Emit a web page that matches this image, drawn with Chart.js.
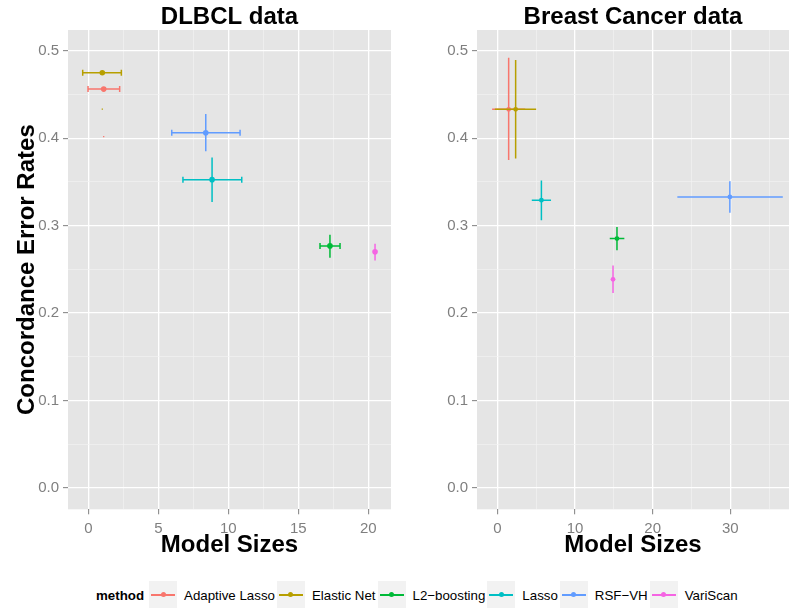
<!DOCTYPE html>
<html>
<head>
<meta charset="utf-8">
<script src="https://cdn.jsdelivr.net/npm/chart.js@4.4.0/dist/chart.umd.min.js"></script>
<style>
  body { margin: 0; background: #fff; font-family: "Liberation Sans", Arial, sans-serif; }
  #wrap { position: relative; width: 793px; height: 608px; overflow: hidden; }
  .panel { position: absolute; top: 0; height: 560px; }
  #left { left: 0; width: 400px; }
  #right { left: 400px; width: 393px; }
  #legend { position: absolute; left: 96px; top: 581px; height: 28px; display: flex; align-items: center; font-size: 13.3px; color: #000; }
  #legend b { margin-right: 5px; }
  .key { position: relative; width: 28px; height: 28px; background: #F2F2F2; }
  .key i { position: absolute; left: 2px; right: 2px; top: 13px; height: 1.6px; }
  .key u { position: absolute; left: 11.5px; top: 11.3px; width: 5px; height: 5px; border-radius: 50%; }
  .lab { margin: 0 2px 0 7px; }
</style>
</head>
<body>
<div id="wrap">
  <div class="panel" id="left"><canvas id="dlbcl"></canvas></div>
  <div class="panel" id="right"><canvas id="breast"></canvas></div>
  <div id="legend"></div>
</div>
<script>
const methods = ["Adaptive Lasso", "Elastic Net", "L2\u2212boosting", "Lasso", "RSF\u2212VH", "VariScan"];
const colors = ["#F8766D", "#B79F00", "#00BA38", "#00BFC4", "#619CFF", "#F564E3"];

// DLBCL data
const dlSize   = [1.1, 1.0, 17.26, 8.84, 8.39, 20.48];
const dlSizeLo = [-0.02, -0.4, 16.55, 6.76, 5.96, null];
const dlSizeHi = [2.24, 2.36, 17.98, 10.96, 10.84, null];
const dlErr    = [0.4562, 0.4749, 0.2768, 0.3526, 0.4063, 0.270];
const dlErrLo  = [null, null, 0.2634, 0.327, 0.385, 0.260];
const dlErrHi  = [null, null, 0.2897, 0.378, 0.4277, 0.2794];
// the two tiny marks below Adaptive Lasso / Elastic Net
const dlStrayX = [1.1, 1.0];
const dlStrayY = [0.4017, 0.4334];

// Breast Cancer data
const bcSize   = [1.44, 2.34, 15.4, 5.66, 29.95, 14.89];
const bcSizeLo = [-0.69, -0.34, 14.47, 4.42, 23.18, null];
const bcSizeHi = [3.57, 4.98, 16.35, 6.9, 36.77, null];
const bcErr    = [0.433, 0.433, 0.2852, 0.3291, 0.3329, 0.2386];
const bcErrLo  = [0.375, 0.3768, 0.2718, 0.3062, 0.3146, 0.2229];
const bcErrHi  = [0.492, 0.4894, 0.2985, 0.3517, 0.3508, 0.2543];

// ticks
const dlXTicks = [0, 5, 10, 15, 20];
const dlXMinor = [2.5, 7.5, 12.5, 17.5];
const bcXTicks = [0, 10, 20, 30];
const bcXMinor = [5, 15, 25, 35];
const yTicks = [0, 0.1, 0.2, 0.3, 0.4, 0.5];
const yMinor = [0.05, 0.15, 0.25, 0.35, 0.45];

Chart.defaults.font.family = '"Liberation Sans", Arial, sans-serif';

const panelBg = {
  id: "panelBg",
  beforeDraw(chart) {
    const a = chart.chartArea, ctx = chart.ctx;
    ctx.save();
    ctx.fillStyle = "#E5E5E5";
    ctx.fillRect(a.left, a.top, a.right - a.left, a.bottom - a.top);
    ctx.restore();
  }
};

// error bars drawn just before each method's point
function errorBars(p) {
  return {
    id: "errorBars",
    beforeDatasetDraw(chart, args) {
      const i = args.index;
      if (i >= methods.length) return;
      const { ctx, scales: { x, y } } = chart;
      const px = x.getPixelForValue(p.size[i]);
      const py = y.getPixelForValue(p.err[i]);
      ctx.save();
      ctx.strokeStyle = colors[i];
      ctx.lineWidth = 1.5;
      ctx.beginPath();
      if (p.sizeLo[i] != null) {
        const x0 = x.getPixelForValue(p.sizeLo[i]);
        const x1 = x.getPixelForValue(p.sizeHi[i]);
        ctx.moveTo(x0, py); ctx.lineTo(x1, py);
        if (p.cap) {
          ctx.moveTo(x0, py - p.cap); ctx.lineTo(x0, py + p.cap);
          ctx.moveTo(x1, py - p.cap); ctx.lineTo(x1, py + p.cap);
        }
      }
      if (p.errLo[i] != null) {
        ctx.moveTo(px, y.getPixelForValue(p.errLo[i]));
        ctx.lineTo(px, y.getPixelForValue(p.errHi[i]));
      }
      ctx.stroke();
      ctx.restore();
    }
  };
}

function axis(min, max, majors, minors, fmt, fit, pad, title) {
  return {
    type: "linear", min: min, max: max,
    afterBuildTicks: s => { s.ticks = majors.concat(minors).sort((a, b) => a - b).map(v => ({ value: v })); },
    afterFit: fit,
    border: { display: false },
    grid: {
      color: c => majors.includes(c.tick && c.tick.value) ? "#FFFFFF" : "#F2F2F2",
      lineWidth: c => majors.includes(c.tick && c.tick.value) ? 1.3 : 0.7,
      tickColor: c => majors.includes(c.tick && c.tick.value) ? "#7F7F7F" : "rgba(0,0,0,0)",
      tickLength: 5,
      tickWidth: 1
    },
    ticks: {
      autoSkip: false, maxRotation: 0, padding: pad,
      color: "#7F7F7F", font: { size: 15 },
      callback: v => majors.includes(v) ? fmt(v) : ""
    },
    title: title
  };
}

function makePanel(id, name, p, xr, yWidth, yTitle, padRight, radius) {
  const datasets = methods.map((m, i) => ({
    label: m,
    data: [{ x: p.size[i], y: p.err[i] }],
    backgroundColor: colors[i],
    borderWidth: 0,
    pointRadius: radius,
    order: -i
  }));
  if (p.strayX) {
    datasets.push({
      label: "stray",
      data: p.strayX.map((v, k) => ({ x: v, y: p.strayY[k] })),
      backgroundColor: colors.slice(0, p.strayX.length),
      borderWidth: 0, pointStyle: "rect", pointRadius: 0.9, order: 1
    });
  }
  const titleFont = { size: 24, weight: "bold" };
  const headFont = { size: 24, weight: "bold", lineHeight: 1.05 };
  new Chart(document.getElementById(id), {
    type: "scatter",
    data: { datasets },
    options: {
      responsive: true, maintainAspectRatio: false, animation: false,
      layout: { padding: { left: 0, right: padRight, top: 0, bottom: 0.7 } },
      plugins: {
        legend: { display: false },
        tooltip: { enabled: false },
        title: { display: true, text: name, color: "#000", font: headFont, fullSize: false, padding: { top: 4.8, bottom: 0 } }
      },
      scales: {
        x: axis(xr[0], xr[1], xr[2], xr[3], v => String(v), s => { s.height = 50; }, 6,
          { display: true, text: "Model Sizes", color: "#000", font: titleFont, padding: 0 }),
        y: axis(-0.0245, 0.5238, yTicks, yMinor, v => v.toFixed(1), s => { s.width = yWidth; }, 4,
          yTitle ? { display: true, text: yTitle, color: "#000", font: titleFont, padding: { top: 13, bottom: 0 } } : { display: false })
      }
    },
    plugins: [panelBg, errorBars(p)]
  });
}

makePanel("dlbcl", "DLBCL data",
  { size: dlSize, sizeLo: dlSizeLo, sizeHi: dlSizeHi, err: dlErr, errLo: dlErrLo, errHi: dlErrHi, strayX: dlStrayX, strayY: dlStrayY, cap: 3 },
  [-1.45, 21.62, dlXTicks, dlXMinor], 68, "Concordance Error Rates", 9, 2.8);

makePanel("breast", "Breast Cancer data",
  { size: bcSize, sizeLo: bcSizeLo, sizeHi: bcSizeHi, err: bcErr, errLo: bcErrLo, errHi: bcErrHi, cap: 0 },
  [-2.64, 37.57, bcXTicks, bcXMinor], 77, null, 1, 2.4);

// legend
const legend = document.getElementById("legend");
legend.innerHTML = "<b>method</b>" + methods.map((m, i) =>
  `<span class="key"><i style="background:${colors[i]}"></i><u style="background:${colors[i]}"></u></span><span class="lab">${m}</span>`
).join("");
</script>
</body>
</html>
